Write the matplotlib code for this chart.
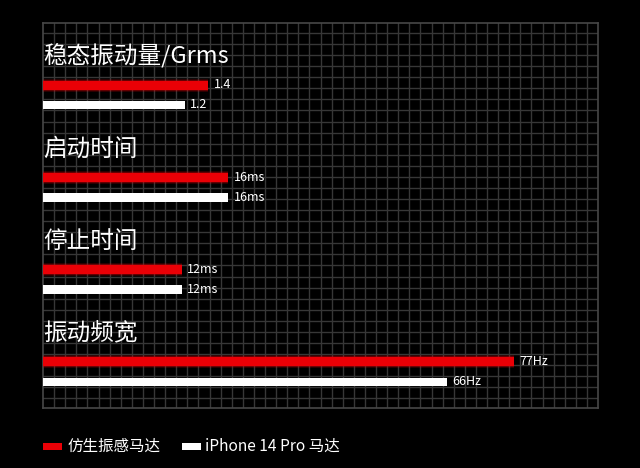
import matplotlib
matplotlib.use('Agg')
import matplotlib.pyplot as plt
from matplotlib.patches import Rectangle

plt.rcParams['font.family'] = ['Noto Sans CJK SC', 'DejaVu Sans']

# ---- data ----
groups = ['稳态振动量/Grms', '启动时间', '停止时间', '振动频宽']
series = ['仿生振感马达', 'iPhone 14 Pro 马达']
bionic = [1.4, 16, 12, 77]
iphone = [1.2, 16, 12, 66]
bionic_labels = ['1.4', '16ms', '12ms', '77Hz']
iphone_labels = ['1.2', '16ms', '12ms', '66Hz']
axis_max = [4.7, 48, 48, 90.7]   # full panel width in each group's units

RED = '#ea0006'
WHITE = '#ffffff'
GRID = '#373737'

W, H = 640, 468
fig = plt.figure(figsize=(6.4, 4.68), dpi=100, facecolor='black')

L, T, R, B = 43, 22.7, 598, 408.3
rect = [L / W, 1 - B / H, (R - L) / W, (B - T) / H]
pw, ph = R - L, B - T

# background grid panel
ax = fig.add_axes(rect)
ax.set_facecolor('black')
ax.set_xlim(0, pw)
ax.set_ylim(ph, 0)
for k in range(1, 50):
    ax.axvline(11.1 * k, color=GRID, lw=1)
y = 10.3
while y < ph:
    ax.axhline(y, color=GRID, lw=1)
    y += 11.07
for s in ax.spines.values():
    s.set_color('#474747')
    s.set_linewidth(1.2)
ax.set_xticks([])
ax.set_yticks([])

colors = [RED, WHITE]
for i, g in enumerate(groups):
    gax = fig.add_axes(rect)
    gax.patch.set_alpha(0)
    gax.set_xlim(0, axis_max[i])
    gax.set_ylim(ph, 0)
    gax.axis('off')
    ty = 56.5 + 92.3 * i - T
    gax.text(0.0, ty, g, color='white', fontsize=17,
             va='center', ha='left')
    yr = ty + 28.5
    yw = ty + 48.5
    # glow for red bar
    gax.barh(yr, bionic[i], height=13, color=RED, alpha=0.18, left=0, lw=0)
    gax.barh(yr, bionic[i], height=11, color=RED, alpha=0.3, left=0, lw=0)
    gax.barh(yr, bionic[i], height=9, color=RED, left=0, lw=0)
    gax.barh(yw, iphone[i], height=8.5, color=WHITE, left=0, lw=0)
    gax.annotate(bionic_labels[i], xy=(bionic[i], yr), xytext=(4, 0),
                 textcoords='offset points', color='white', fontsize=9,
                 va='center', ha='left')
    gax.annotate(iphone_labels[i], xy=(iphone[i], yw), xytext=(4, 0),
                 textcoords='offset points', color='white', fontsize=9,
                 va='center', ha='left')

# legend
ly = 446
sw_x = [43, 182]
tx_x = [68, 205]
for name, c, sx, tx in zip(series, colors, sw_x, tx_x):
    fig.add_artist(Rectangle((sx / W, 1 - (ly + 3.5) / H), 19 / W, 7 / H,
                             transform=fig.transFigure, color=c, lw=0))
    fig.text(tx / W, 1 - ly / H, name, color='white', fontsize=11.2,
             va='center', ha='left')

fig.savefig('out.png', dpi=100, facecolor='black')
